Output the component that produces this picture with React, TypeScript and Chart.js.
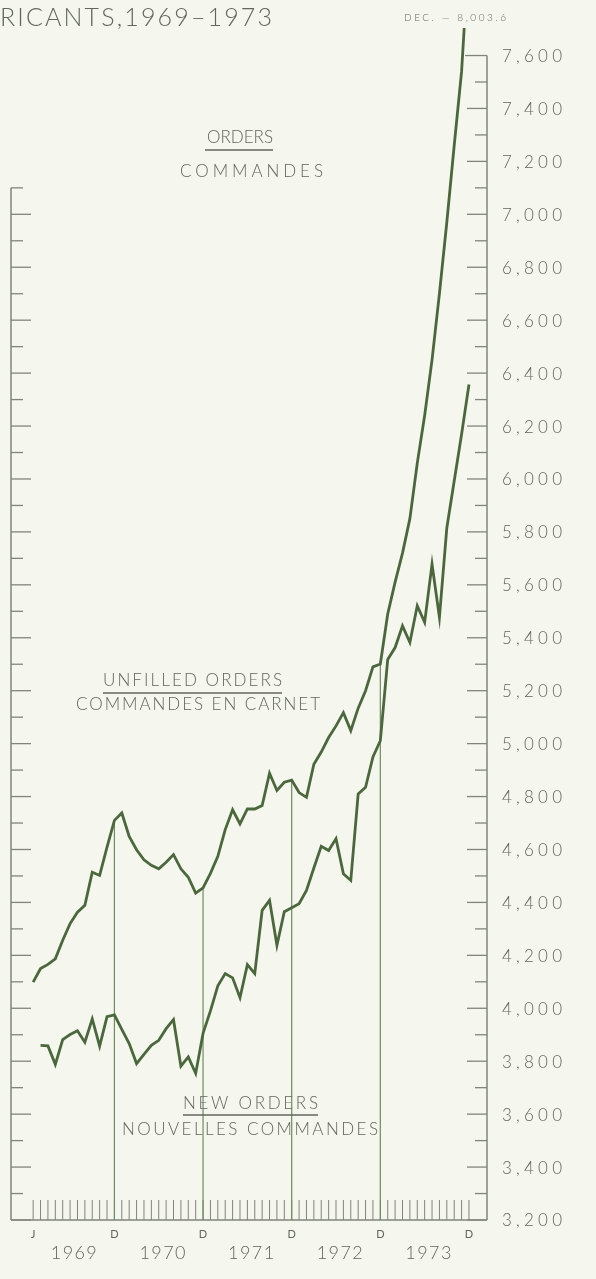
import React, { useEffect, useRef } from 'react';
import { Chart, registerables } from 'chart.js';

Chart.register(...registerables);

// ---- DATA ----
// month index 0 = Jan 1969 ... 59 = Dec 1973
const monthIndex: number[] = Array.from({ length: 60 }, (_, i) => i);

const unfilledOrders: (number | null)[] = [
  4099, 4150, 4166, 4187, 4257, 4320, 4363, 4389, 4514, 4502, 4609, 4710,
  4738, 4649, 4599, 4561, 4540, 4527, 4552, 4581, 4527, 4495, 4435, 4455,
  4510, 4574, 4675, 4750, 4697, 4753, 4753, 4766, 4888, 4823, 4854, 4862,
  4815, 4797, 4922, 4968, 5023, 5067, 5117, 5049, 5134, 5200, 5290, 5301,
  5490, 5610, 5720, 5850, 6060, 6240, 6450, 6700, 6970, 7260, 7540, 8003.6,
];

const newOrders: (number | null)[] = [
  null, 3860, 3858, 3788, 3882, 3901, 3915, 3872, 3960, 3857, 3968, 3975,
  3920, 3867, 3791, 3826, 3860, 3879, 3923, 3957, 3781, 3816, 3754, 3905,
  3990, 4085, 4131, 4115, 4040, 4165, 4131, 4370, 4408, 4238, 4365, 4380,
  4395, 4445, 4530, 4612, 4596, 4641, 4508, 4483, 4810, 4835, 4950, 5011,
  5318, 5363, 5445, 5382, 5521, 5458, 5678, 5477, 5815, 5992, 6169, 6357,
];

const yTickLabels: number[] = [
  3200, 3400, 3600, 3800, 4000, 4200, 4400, 4600, 4800, 5000, 5200, 5400,
  5600, 5800, 6000, 6200, 6400, 6600, 6800, 7000, 7200, 7400, 7600,
];
const yMinorTicks: number[] = [
  3300, 3500, 3700, 3900, 4100, 4300, 4500, 4700, 4900, 5100, 5300, 5500,
  5700, 5900, 6100, 6300, 6500, 6700, 6900, 7100, 7300, 7500,
];
const leftAxisTop = 7100;
const rightAxisTop = 7600;
const axisBottom = 3200;

const monthLetters: string[] = ['J', 'D', 'D', 'D', 'D', 'D'];
const monthLetterIdx: number[] = [0, 11, 23, 35, 47, 59];
const yearLabels: string[] = ['1969', '1970', '1971', '1972', '1973'];
const yearLabelIdx: number[] = [5.5, 17.5, 29.5, 41.5, 53.5];
const dropLineIdx: number[] = [11, 23, 35, 47];

const titleText = 'RICANTS,1969–1973';
const decNote = 'DEC. — 8,003.6';
const ordersTitle = ['ORDERS', 'COMMANDES'];
const unfilledLabel = ['UNFILLED ORDERS', 'COMMANDES EN CARNET'];
const newLabel = ['NEW ORDERS', 'NOUVELLES COMMANDES'];

// ---- STYLE ----
const BG = '#f5f6ee';
const LINE = '#4a683c';
const DROP = '#6f8c60';
const AXIS = '#80857a';
const TEXT = '#62665e';
const FONT = 'Lato, "Open Sans", sans-serif';

function spaced(
  ctx: CanvasRenderingContext2D,
  text: string,
  left: number,
  cy: number,
  width: number,
  size: number,
) {
  ctx.save();
  ctx.font = `300 ${size}px ${FONT}`;
  (ctx as any).letterSpacing = '0px';
  const w = ctx.measureText(text).width;
  const n = Array.from(text).length;
  const ls = n > 1 ? (width - w) / (n - 1) : 0;
  (ctx as any).letterSpacing = `${ls}px`;
  ctx.fillStyle = TEXT;
  ctx.textAlign = 'left';
  ctx.textBaseline = 'middle';
  ctx.fillText(text, left, cy);
  ctx.restore();
}

function line(ctx: CanvasRenderingContext2D, x1: number, y1: number, x2: number, y2: number) {
  ctx.beginPath();
  ctx.moveTo(x1, y1);
  ctx.lineTo(x2, y2);
  ctx.stroke();
}

const framePlugin = {
  id: 'frame',
  beforeDraw(chart: any) {
    const ctx = chart.ctx as CanvasRenderingContext2D;
    ctx.save();
    ctx.fillStyle = BG;
    ctx.fillRect(0, 0, chart.width, chart.height);
    ctx.restore();
  },
  beforeDatasetsDraw(chart: any) {
    const ctx = chart.ctx as CanvasRenderingContext2D;
    const xs = chart.scales.x;
    const ys = chart.scales.y;
    const { left, right } = chart.chartArea;
    const yb = ys.getPixelForValue(axisBottom);
    ctx.save();
    ctx.strokeStyle = AXIS;
    ctx.lineWidth = 1.5;
    line(ctx, left, yb, left, ys.getPixelForValue(leftAxisTop));
    line(ctx, right, yb, right, ys.getPixelForValue(rightAxisTop));
    line(ctx, left, yb, right, yb);
    ctx.lineWidth = 1.3;
    yTickLabels.forEach((v) => {
      const y = ys.getPixelForValue(v);
      if (v <= leftAxisTop) line(ctx, left, y, left + 20, y);
      line(ctx, right, y, right - (v === rightAxisTop ? 22 : 20), y);
    });
    yMinorTicks.forEach((v) => {
      const y = ys.getPixelForValue(v);
      if (v <= leftAxisTop) line(ctx, left, y, left + 12, y);
      line(ctx, right, y, right - 12, y);
    });
    ctx.lineWidth = 1;
    monthIndex.forEach((i) => {
      const x = xs.getPixelForValue(i);
      line(ctx, x, yb, x, yb - 20);
    });
    ctx.strokeStyle = DROP;
    ctx.lineWidth = 1.2;
    dropLineIdx.forEach((i) => {
      const a = unfilledOrders[i] ?? axisBottom;
      const b = newOrders[i] ?? axisBottom;
      const top = ys.getPixelForValue(Math.max(a, b));
      const x = xs.getPixelForValue(i);
      line(ctx, x, yb, x, top);
    });
    ctx.restore();
  },
  afterDraw(chart: any) {
    const ctx = chart.ctx as CanvasRenderingContext2D;
    const xs = chart.scales.x;
    const ys = chart.scales.y;
    yTickLabels.forEach((v) => {
      spaced(ctx, v.toLocaleString('en-US'), 502, ys.getPixelForValue(v) + 1, 60, 17);
    });
    ctx.save();
    ctx.font = `11px ${FONT}`;
    ctx.fillStyle = TEXT;
    ctx.textAlign = 'center';
    ctx.textBaseline = 'middle';
    monthLetters.forEach((t, k) => {
      ctx.fillText(t, xs.getPixelForValue(monthLetterIdx[k]), 1234);
    });
    ctx.restore();
    yearLabels.forEach((t, k) => {
      const cx = xs.getPixelForValue(yearLabelIdx[k]);
      spaced(ctx, t, cx - 23, 1253, 46, 18);
    });
    spaced(ctx, titleText, 0, 18, 272, 25);
    spaced(ctx, decNote, 404, 18, 102, 10);
    spaced(ctx, ordersTitle[0], 207, 138, 66, 17);
    spaced(ctx, ordersTitle[1], 180, 172, 143, 17);
    spaced(ctx, unfilledLabel[0], 103, 681, 179, 17);
    spaced(ctx, unfilledLabel[1], 76, 705, 244, 17);
    spaced(ctx, newLabel[0], 183, 1104, 135, 17);
    spaced(ctx, newLabel[1], 122, 1130, 256, 17);
    ctx.save();
    ctx.strokeStyle = TEXT;
    ctx.lineWidth = 1.4;
    line(ctx, 205, 150, 273, 150);
    line(ctx, 103, 693, 282, 693);
    line(ctx, 183, 1115, 318, 1115);
    ctx.restore();
  },
};

export default function App() {
  const ref = useRef<HTMLCanvasElement | null>(null);
  useEffect(() => {
    if (!ref.current) return;
    const chart = new Chart(ref.current, {
      type: 'line',
      data: {
        datasets: [
          {
            label: 'Unfilled orders',
            data: monthIndex.map((i) => ({ x: i, y: unfilledOrders[i] })),
            borderColor: LINE,
            borderWidth: 2.8,
            pointRadius: 0,
            tension: 0,
            spanGaps: false,
          },
          {
            label: 'New orders',
            data: monthIndex.map((i) => ({ x: i, y: newOrders[i] })),
            borderColor: LINE,
            borderWidth: 2.8,
            pointRadius: 0,
            tension: 0,
            spanGaps: false,
          },
        ],
      },
      options: {
        responsive: false,
        maintainAspectRatio: false,
        devicePixelRatio: 1,
        animation: false,
        layout: { padding: { left: 11, right: 109, top: 28, bottom: 59 } },
        plugins: { legend: { display: false }, tooltip: { enabled: false } },
        scales: {
          x: { type: 'linear', min: -3, max: 61.44, display: false },
          y: { type: 'linear', min: 3200, max: 7704, display: false },
        },
      },
      plugins: [framePlugin],
    });
    return () => chart.destroy();
  }, []);
  return (
    <div style={{ position: 'absolute', left: 0, top: 0, width: 596, height: 1279 }}>
      <canvas ref={ref} width={596} height={1279} style={{ display: 'block' }} />
    </div>
  );
}
